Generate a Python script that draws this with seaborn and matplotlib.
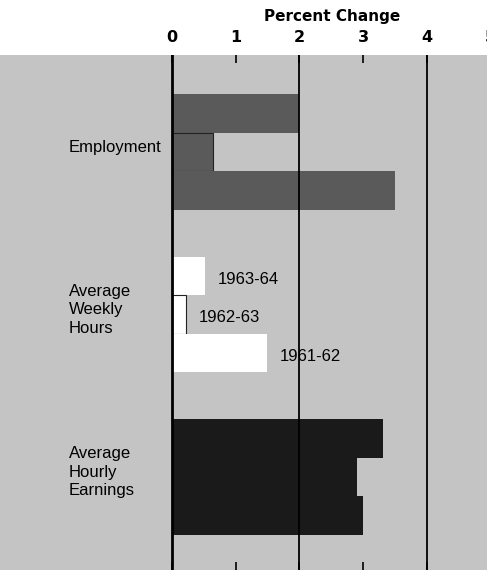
import matplotlib
matplotlib.use('Agg')
import matplotlib.pyplot as plt
import pandas as pd
import seaborn as sns

# ── DATA ─────────────────────────────────────────────────────────────────────
categories = ["Employment", "Average\nWeekly\nHours", "Average\nHourly\nEarnings"]
years = ["1963-64", "1962-63", "1961-62"]
employment = [2.0, 0.65, 3.5]
weekly_hours = [0.52, 0.22, 1.49]
hourly_earnings = [3.31, 2.9, 3.0]
x_ticks = [0, 1, 2, 3, 4, 5]
grid_at = [0, 2, 4]

# ── STYLE ────────────────────────────────────────────────────────────────────
BG = '#c4c4c4'
GROUP_COLORS = ['#5a5a5a', '#ffffff', '#1a1a1a']
NARROW = ['Liberation Sans', 'DejaVu Sans']

rows = []
for cat, vals in zip(categories, [employment, weekly_hours, hourly_earnings]):
    for yr, v in zip(years, vals):
        rows.append({'category': cat, 'year': yr, 'value': v})
df = pd.DataFrame(rows)

fig = plt.figure(figsize=(4.87, 5.70), dpi=100)
fig.patch.set_facecolor('white')
ax = fig.add_axes([0, 0, 497 / 487, 515 / 570])
ax.set_facecolor(BG)

sns.barplot(data=df, y='category', x='value', hue='year',
            order=categories, hue_order=years, orient='h',
            width=0.71, dodge=True, saturation=1, legend=False, ax=ax)

for container in ax.containers:
    for i, bar in enumerate(container):
        bar.set_facecolor(GROUP_COLORS[i])
        bar.set_edgecolor('none')
# outlined short bars (1962-63) in employment and hours groups
for i in (0, 1):
    ax.containers[1][i].set_edgecolor('#222222')
    ax.containers[1][i].set_linewidth(0.8)

for v in grid_at:
    ax.axvline(v, color='black', lw=2.0 if v == 0 else 1.3, zorder=4)

ax.set_xlim(-2.70, 5.10)
ax.set_ylim(2.572, -0.597)
ax.set_xticks(x_ticks)
ax.set_xticklabels([str(t) for t in x_ticks], fontweight='bold')
ax.xaxis.tick_top()
ax.tick_params(axis='x', which='both', direction='in', length=6, width=1.2,
               top=True, bottom=True, labeltop=True, labelbottom=False,
               pad=7, labelsize=11.5)
ax.set_yticks([])
ax.set_xlabel('')
ax.set_ylabel('')
for s in ax.spines.values():
    s.set_visible(False)

ax.text(0.668, 1.074, 'Percent Change', transform=ax.transAxes,
        ha='center', va='center', fontsize=11, fontweight='bold')

# group labels
for i, cat in enumerate(categories):
    ax.text(-1.62, i - 0.03, cat, ha='left', va='center', fontsize=12,
            family=NARROW, linespacing=1.3)

# year labels beside weekly-hours bars
for container, yr in zip(ax.containers, years):
    bar = container[1]
    ax.text(bar.get_width() + 0.2, bar.get_y() + bar.get_height() / 2 + 0.02, yr,
            ha='left', va='center', fontsize=12, family=NARROW)

fig.savefig('out.png', dpi=100)
plt.close(fig)
